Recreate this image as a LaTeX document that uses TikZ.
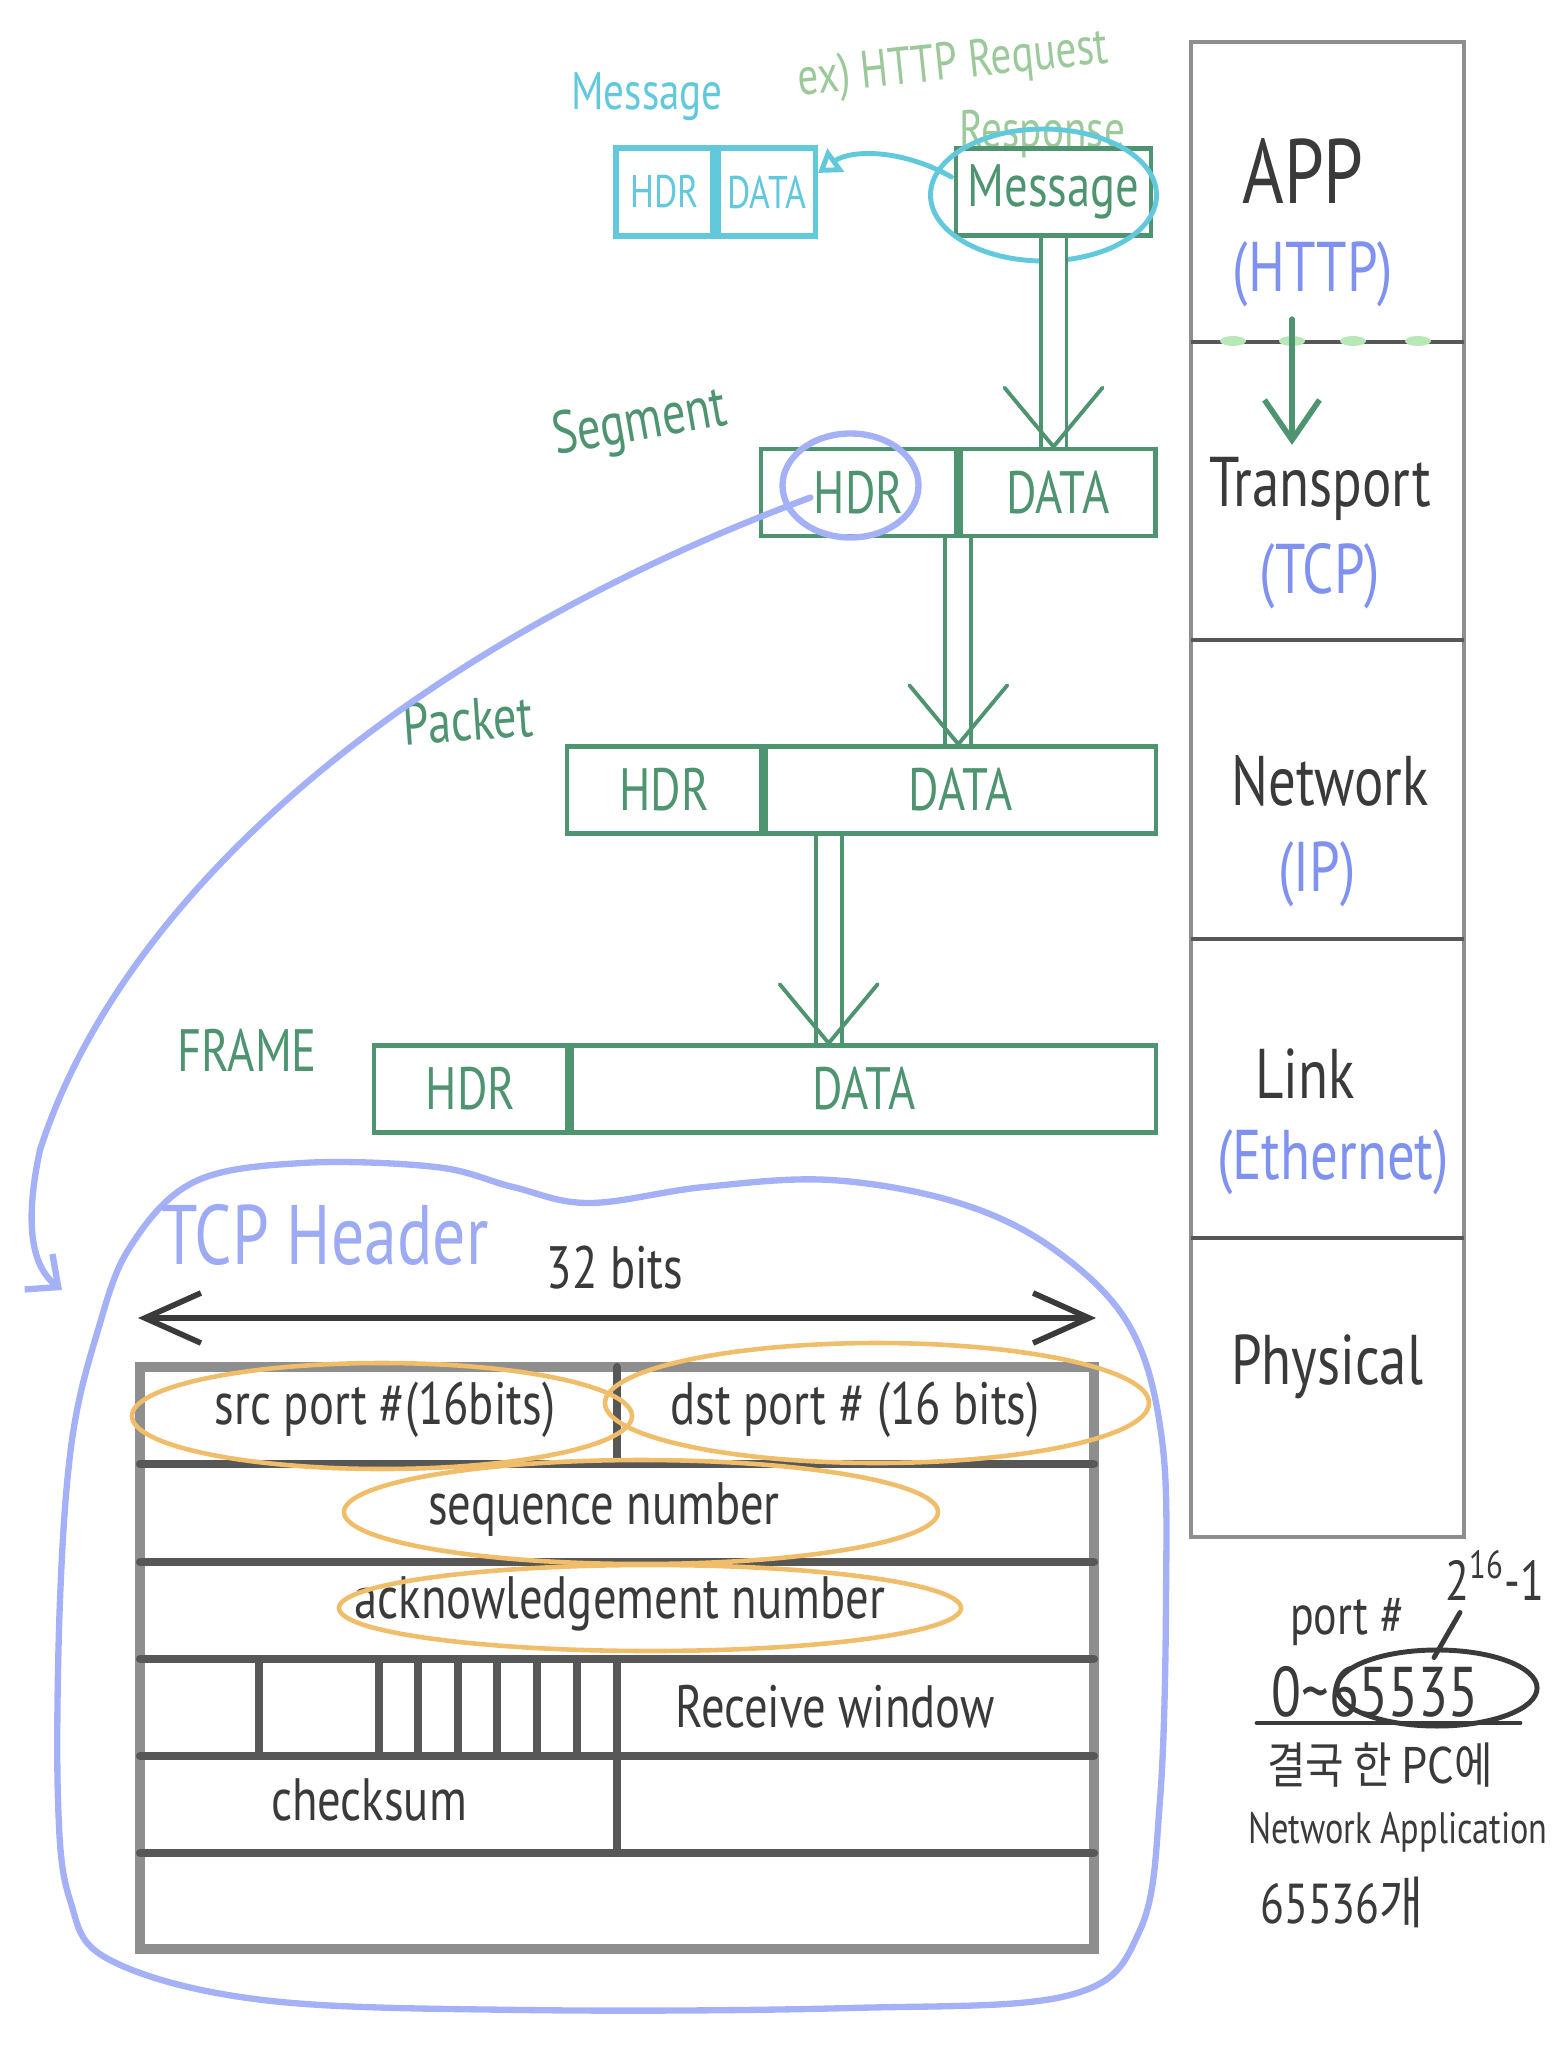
\documentclass[tikz,border=0pt]{standalone}
\usepackage{fontspec}
\setmainfont{PT Sans}[FakeStretch=0.78]
\newfontfamily\kr{Noto Sans CJK KR}[FakeStretch=0.85]
\usetikzlibrary{positioning, arrows.meta, shapes.geometric}

\definecolor{boxgreen}{HTML}{4E9470}
\definecolor{lightgreen}{HTML}{9CC99A}
\definecolor{dotgreen}{HTML}{B8E8B8}
\definecolor{msgcyan}{HTML}{62C9DD}
\definecolor{hdrblue}{HTML}{A5B1F6}
\definecolor{protoblue}{HTML}{7F92F0}
\definecolor{markorange}{HTML}{F0BD6A}
\definecolor{inkgray}{HTML}{3A3A3A}
\definecolor{framegray}{HTML}{8E8E8E}
\definecolor{rulegray}{HTML}{575757}

\tikzset{
  stacktext/.style={text=inkgray, font=\fontsize{20}{24}\selectfont},
  prototext/.style={text=protoblue, font=\fontsize{20}{24}\selectfont},
  pdu/.style={draw=boxgreen, line width=1.3pt, text=boxgreen, minimum height=0.87cm, inner sep=0pt, font=\fontsize{17}{20}\selectfont},
  cyanpdu/.style={draw=msgcyan, line width=1.5pt, text=msgcyan, minimum height=0.88cm, minimum width=0.97cm, inner sep=0pt, font=\fontsize{13}{15}\selectfont},
  pdulabel/.style={text=boxgreen, font=\fontsize{17}{20}\selectfont},
  flowline/.style={draw=boxgreen, line width=1.1pt, double=white, double distance=2.2mm},
  flowhead/.style={draw=boxgreen, line width=1.1pt, line cap=round, line join=round},
  hdrmark/.style={draw=hdrblue, line width=1.8pt, line cap=round},
  cyanmark/.style={draw=msgcyan, line width=1.4pt, line cap=round},
  hilite/.style={draw=markorange, line width=1.3pt},
  tabletext/.style={text=inkgray, font=\fontsize{17}{20}\selectfont},
  tablerule/.style={draw=rulegray, line width=2.3pt, line cap=round},
  notetext/.style={text=inkgray, font=\fontsize{16}{19}\selectfont},
  inkline/.style={draw=inkgray, line width=1.4pt, line cap=round}
}

\begin{document}
\begin{tikzpicture}[x=0.01cm, y=-0.01cm]
\useasboundingbox (0,0) rectangle (1553,2058);

% protocol stack
\draw[draw=framegray, line width=1.3pt] (1191,42) rectangle (1464,1537);
\foreach \y in {342,640,939,1238}
  \draw[draw=rulegray, line width=1pt] (1191,\y) -- (1464,\y);
\foreach \x in {1233,1292,1353,1418}
  \fill[dotgreen] (\x,341) ellipse [x radius=13, y radius=5];

\node[stacktext, font=\fontsize{26}{30}\selectfont] (app) at (1303,171) {APP};
\node[prototext] (http) at (1313,274) {(HTTP)};
\node[stacktext] (transport) at (1320,489) {Transport};
\node[prototext] (tcp) at (1320,576) {(TCP)};
\node[stacktext] (network) at (1330,781) {Network};
\node[prototext] (ip) at (1317,874) {(IP)};
\node[stacktext] (link) at (1305,1074) {Link};
\node[prototext] (ether) at (1333,1162) {(Ethernet)};
\node[stacktext] (physical) at (1327,1367) {Physical};
\draw[flowhead, line width=1.6pt, -{Straight Barb[length=4mm, width=5.5mm]}]
  ([xshift=-2.1mm]http.south) -- ([xshift=-2.1mm]http.south |- transport.north);

% message
\node[text=msgcyan, font=\fontsize{15}{18}\selectfont] (msglabel) at (647,97) {Message};
\node[cyanpdu] (chdr) at (664.5,192) {HDR};
\node[cyanpdu, right=0pt of chdr] (cdata) {DATA};
\node[text=lightgreen, font=\fontsize{15}{18}\selectfont, rotate=6] (exreq) at (953,66) {ex) HTTP Request};
\node[text=lightgreen, font=\fontsize{15}{18}\selectfont] (exresp) at (1042,134) {Response};
\node[pdu, minimum width=1.95cm] (msg) at (1053.5,192) {Message};
\draw[cyanmark] ([shift={(-10,3)}]msg.center) ellipse [x radius=113, y radius=66];
\draw[cyanmark, -{Triangle[open, length=2.2mm, width=2.8mm]}]
  ([shift={(-102,-15)}]msg.center) .. controls (900,148) and (850,150) .. ([yshift=1.9mm]cdata.east);

% segment
\node[pdulabel, rotate=10] (seglabel) at (640,425) {Segment};
\node[pdu, minimum width=1.95cm] (seghdr) at (858.5,492.5) {HDR};
\node[pdu, minimum width=1.95cm, right=0pt of seghdr] (segdata) {DATA};
\draw[flowline] (msg.south) -- (msg.south |- segdata.north);
\draw[flowhead] ([shift={(-49,-59)}]msg.south |- segdata.north) -- (msg.south |- segdata.north) -- +(49,-59);

% packet
\node[pdulabel, rotate=4] (pktlabel) at (468,720) {Packet};
\node[pdu, minimum width=1.94cm] (pkthdr) at (664,790) {HDR};
\node[pdu, minimum width=3.9cm, right=0pt of pkthdr] (pktdata) {DATA};
\draw[flowline] (seghdr.south east) -- (seghdr.south east |- pktdata.north);
\draw[flowhead] ([shift={(-49,-59)}]seghdr.south east |- pktdata.north) -- (seghdr.south east |- pktdata.north) -- +(49,-59);

% frame
\node[pdulabel] (frmlabel) at (247,1050) {FRAME};
\node[pdu, minimum width=1.93cm] (frmhdr) at (470.5,1089) {HDR};
\node[pdu, minimum width=5.84cm, right=0pt of frmhdr] (frmdata) {DATA};
\coordinate (pktdrop) at ([xshift=-1.32cm]pktdata.south);
\draw[flowline] (pktdrop) -- (pktdrop |- frmdata.north);
\draw[flowhead] ([shift={(-49,-59)}]pktdrop |- frmdata.north) -- (pktdrop |- frmdata.north) -- +(49,-59);

% segment header -> TCP header
\draw[hdrmark] ([shift={(-8,-7)}]seghdr.center) ellipse [x radius=68, y radius=52];
\coordinate (hookend) at (62,1290);
\draw[hdrmark, -{Straight Barb[length=2.5mm, width=4.5mm]}]
  ([shift={(-48,5)}]seghdr.center) .. controls (400,650) and (120,900) .. (40,1150)
  .. controls (25,1220) and (30,1265) .. (hookend);
\draw[hdrmark] plot[smooth cycle, tension=0.6] coordinates {
  (98,1330) (130,1247) (194,1182) (302,1163) (436,1167) (513,1187) (589,1203)
  (704,1187) (831,1180) (959,1203) (1055,1250) (1130,1327) (1162,1440)
  (1166,1600) (1160,1800) (1140,1930) (1070,1995) (850,2008) (525,2010)
  (263,2000) (110,1960) (70,1900) (58,1800) (60,1600) (72,1440)};
\node[text=hdrblue!80!protoblue, font=\fontsize{24}{28}\selectfont] (tcphead) at (325,1235) {TCP Header};

% TCP header fields
\coordinate (wl) at (138,1318);
\coordinate (wr) at (1096,1318);
\draw[draw=inkgray, line width=1.6pt,
  {Straight Barb[length=5.6mm, width=5mm]}-{Straight Barb[length=5.6mm, width=5mm]}] (wl) -- (wr);
\node[tabletext] (bits) at (615,1268) {32 bits};

\draw[draw=framegray, line width=2.6pt] (140,1367) rectangle (1094,1949);
\foreach \y in {1464,1562,1659,1756,1853}
  \draw[tablerule] (140,\y) -- (1094,\y);
\draw[tablerule] (617,1367) -- (617,1464);
\draw[tablerule] (617,1659) -- (617,1853);
\foreach \x in {259,379,418,458,497,537,577}
  \draw[tablerule, line width=2pt] (\x,1659) -- (\x,1756);

\node[tabletext] (srcport) at (385,1410) {src port \#(16bits)};
\node[tabletext] (dstport) at (855,1410) {dst port \# (16 bits)};
\node[tabletext] (seqnum) at (604,1510) {sequence number};
\node[tabletext] (acknum) at (620,1604) {acknowledgement number};
\node[tabletext] (rwnd) at (835,1707) {Receive window};
\node[tabletext] (csum) at (369,1800) {checksum};

\draw[hilite] ([shift={(-3,6)}]srcport.center) ellipse [x radius=250, y radius=53];
\draw[hilite] ([shift={(22,-7)}]dstport.center) ellipse [x radius=272, y radius=60];
\draw[hilite] ([shift={(37,2)}]seqnum.center) ellipse [x radius=297, y radius=52];
\draw[hilite] ([shift={(30,4)}]acknum.center) ellipse [x radius=311, y radius=43];

% port note
\node[notetext] (portno) at (1347,1622) {port \#};
\node[notetext] (maxport) at (1495,1575) {2\textsuperscript{16}-1};
\node[notetext, font=\fontsize{20}{24}\selectfont] (range) at (1375,1692) {0\textasciitilde65535};
\draw[inkline] (1257,1723) -- (1520,1723);
\node[inkline, ellipse, draw, minimum width=2.0cm, minimum height=0.76cm] (maxcirc) at (1437,1688) {};
\draw[inkline] ([xshift=-3.5mm]maxport.south) -- ([shift={(-3,10)}]maxcirc.north);
\node[notetext, font=\kr\fontsize{14}{17}\selectfont] (krline) at (1380,1765) {결국 한 PC에};
\node[notetext, font=\fontsize{12.5}{15}\selectfont] (netapp) at (1398,1832) {Network Application};
\node[notetext] (appcount) at (1342,1902) {65536{\kr 개}};
\end{tikzpicture}
\end{document}
